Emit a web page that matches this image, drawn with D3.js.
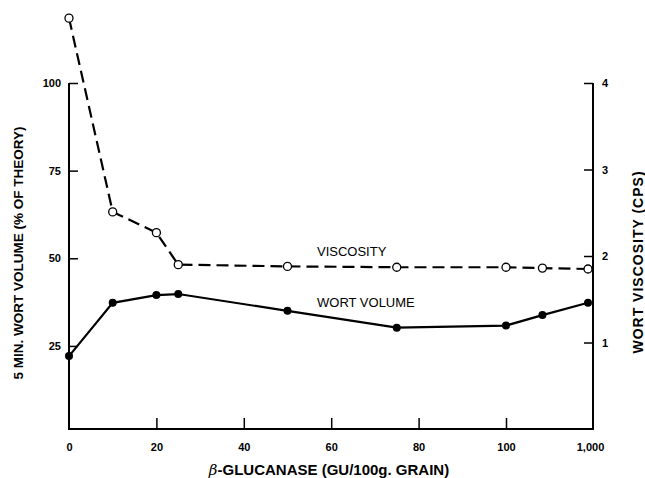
<!DOCTYPE html>
<html>
<head>
<meta charset="utf-8">
<script src="https://cdn.jsdelivr.net/npm/d3@7"></script>
<style>
  body { margin: 0; background: #fff; }
  svg { font-family: "Liberation Sans", Arial, sans-serif; }
</style>
</head>
<body>
<script>
// enzyme dose (GU/100g grain); scale breaks after 100
var doses = [0, 10, 20, 25, 50, 75, 100, 500, 1000];
var wortVolume = [22.1, 37.3, 39.5, 39.8, 35.0, 30.2, 30.8, 33.8, 37.3];
var viscosity = [4.75, 2.51, 2.27, 1.90, 1.88, 1.87, 1.87, 1.86, 1.85];
var xTicks = [0, 20, 40, 60, 80, 100, 1000];
var leftTicks = [25, 50, 75, 100];
var rightTicks = [1, 2, 3, 4];

var svgWidth = 645;
var svgHeight = 478;

var svg = d3.select("body")
  .append("svg")
    .attr("width", svgWidth)
    .attr("height", svgHeight);

// piecewise x scale: linear to 100, compressed 100 -> 1,000
var xScale = d3.scaleLinear().domain([0, 100, 1000]).range([69, 506, 588]);
var yLeft = d3.scaleLinear().domain([1.3, 100]).range([429, 83]);
var yRight = d3.scaleLinear().domain([0, 4]).range([429, 83]);

var axisLeft = 69, axisRight = 593, axisBottom = 429;

// frame lines
svg.append("path")
  .attr("d", "M" + axisLeft + "," + yLeft(100) + "V" + axisBottom + "H" + axisRight + "V" + yRight(4))
  .attr("fill", "none")
  .attr("stroke", "#000")
  .attr("stroke-width", 2);

// left axis (ticks point inward)
var leftAxis = d3.axisRight(yLeft).tickValues(leftTicks).tickSize(9);
var gl = svg.append("g")
  .attr("transform", "translate(" + axisLeft + ",0)")
  .call(leftAxis);
gl.select(".domain").remove();
gl.selectAll(".tick line").attr("stroke-width", 1.5);
gl.selectAll(".tick text")
  .attr("text-anchor", "end")
  .attr("x", -8)
  .style("font-size", "11px")
  .style("font-weight", "bold")
  .style("font-family", "Liberation Sans, Arial, sans-serif");

// right axis
var rightAxis = d3.axisLeft(yRight).tickValues(rightTicks).tickSize(9).tickFormat(d3.format("d"));
var gr = svg.append("g")
  .attr("transform", "translate(" + axisRight + ",0)")
  .call(rightAxis);
gr.select(".domain").remove();
gr.selectAll(".tick line").attr("stroke-width", 1.5);
gr.selectAll(".tick text")
  .attr("text-anchor", "start")
  .attr("x", 9)
  .style("font-size", "11px")
  .style("font-weight", "bold")
  .style("font-family", "Liberation Sans, Arial, sans-serif");

// bottom axis, ticks point up
var bottomAxis = d3.axisTop(xScale).tickValues(xTicks).tickSize(11).tickFormat(d3.format(","));
var gb = svg.append("g")
  .attr("transform", "translate(0," + axisBottom + ")")
  .call(bottomAxis);
gb.select(".domain").remove();
gb.selectAll(".tick line")
  .attr("stroke-width", 1.5)
  .attr("stroke", function(d) { return (d === 0 || d === 1000) ? "none" : "#000"; });
gb.selectAll(".tick text")
  .attr("y", 14)
  .attr("dy", "0.71em")
  .attr("transform", function(d) { return d === 1000 ? "translate(2,0)" : null; })
  .style("font-size", "11px")
  .style("font-weight", "bold")
  .style("font-family", "Liberation Sans, Arial, sans-serif");

// viscosity (dashed, open circles)
var viscLine = d3.line()
  .x(function(d, i) { return xScale(doses[i]); })
  .y(function(d) { return yRight(d); });

svg.append("path")
  .datum(viscosity)
  .attr("d", viscLine)
  .attr("fill", "none")
  .attr("stroke", "#000")
  .attr("stroke-width", 2.2)
  .attr("stroke-dasharray", "12,6");

svg.selectAll(".visc")
  .data(viscosity)
  .enter()
  .append("circle")
    .attr("class", "visc")
    .attr("cx", function(d, i) { return xScale(doses[i]); })
    .attr("cy", function(d) { return yRight(d); })
    .attr("r", 4)
    .attr("fill", "#fff")
    .attr("stroke", "#000")
    .attr("stroke-width", 1.3);

// wort volume (solid, filled circles)
var volLine = d3.line()
  .x(function(d, i) { return xScale(doses[i]); })
  .y(function(d) { return yLeft(d); });

svg.append("path")
  .datum(wortVolume)
  .attr("d", volLine)
  .attr("fill", "none")
  .attr("stroke", "#000")
  .attr("stroke-width", 2.2);

svg.selectAll(".vol")
  .data(wortVolume)
  .enter()
  .append("circle")
    .attr("class", "vol")
    .attr("cx", function(d, i) { return xScale(doses[i]); })
    .attr("cy", function(d) { return yLeft(d); })
    .attr("r", 4)
    .attr("fill", "#000");

// series labels
svg.append("text")
  .attr("x", 317)
  .attr("y", 256)
  .style("font-size", "13px")
  .text("VISCOSITY");

svg.append("text")
  .attr("x", 317)
  .attr("y", 307)
  .style("font-size", "13px")
  .text("WORT VOLUME");

// axis titles
svg.append("text")
  .attr("transform", "translate(23,253) rotate(-90)")
  .attr("text-anchor", "middle")
  .style("font-size", "13.5px")
  .style("font-weight", "bold")
  .text("5 MIN. WORT VOLUME (% OF THEORY)");

svg.append("text")
  .attr("transform", "translate(643,262) rotate(-90)")
  .attr("text-anchor", "middle")
  .style("font-size", "14px")
  .style("font-weight", "bold")
  .style("letter-spacing", "1px")
  .text("WORT VISCOSITY (CPS)");

var xt = svg.append("text")
  .attr("x", 329)
  .attr("y", 475)
  .attr("text-anchor", "middle")
  .style("font-size", "15px")
  .style("font-weight", "bold");
xt.append("tspan")
  .style("font-style", "italic")
  .style("font-weight", "normal")
  .style("font-family", "DejaVu Serif, serif")
  .text("β");
xt.append("tspan").text("-GLUCANASE (GU/100g. GRAIN)");
</script>
</body>
</html>
